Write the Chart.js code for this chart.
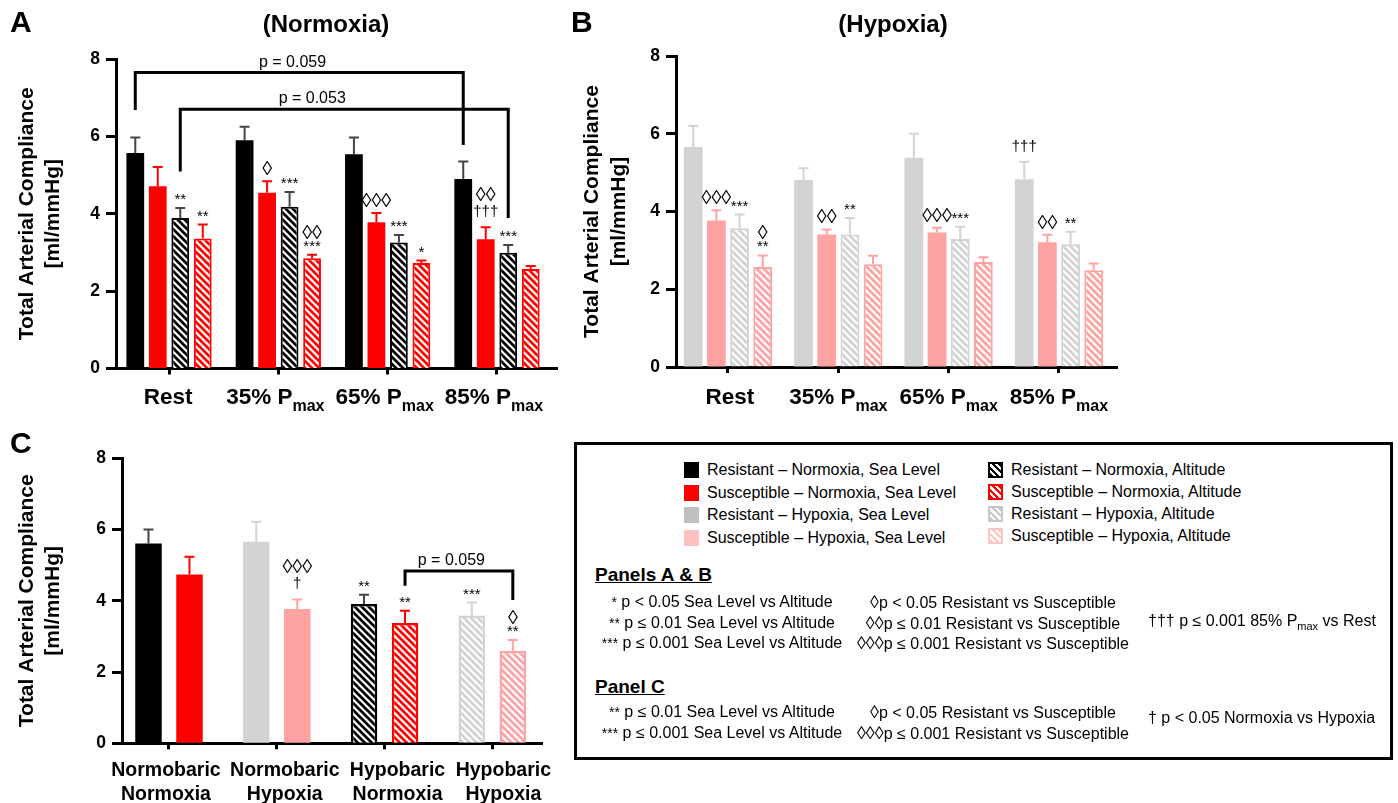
<!DOCTYPE html>
<html>
<head>
<meta charset="utf-8">
<title>Total Arterial Compliance</title>
<script src="https://cdn.jsdelivr.net/npm/chart.js@4.4.1/dist/chart.umd.min.js"></script>
<style>
html,body{margin:0;padding:0;background:#fff;}
#page{position:relative;width:1398px;height:803px;overflow:hidden;font-family:"Liberation Sans",Arial,Helvetica,sans-serif;color:#000;}
#page canvas{position:absolute;}
#cA{left:0;top:0;}
#cB{left:565px;top:0;}
#cC{left:0;top:420px;}
#box{position:absolute;left:574px;top:442px;width:819px;height:318px;border:3px solid #000;box-sizing:border-box;}
.sw{position:absolute;width:15px;height:16px;box-sizing:border-box;}
.lt{position:absolute;font-size:16px;line-height:18px;white-space:nowrap;}
.hd{position:absolute;font-size:19px;font-weight:bold;text-decoration:underline;line-height:22px;white-space:nowrap;}
.st{position:absolute;font-size:16px;line-height:20px;white-space:nowrap;text-align:center;width:500px;}
.sl{position:absolute;font-size:16px;line-height:20px;white-space:nowrap;}
.ast{font-size:14px;}
.dm{font-size:18px;}
.sb{font-size:11px;position:relative;top:4px;}
</style>
</head>
<body>
<div id="page">
<canvas id="cA" width="570" height="420"></canvas>
<canvas id="cB" width="565" height="420"></canvas>
<canvas id="cC" width="570" height="383"></canvas>
<div id="box"></div>
<div id="leg"></div>
</div>
<script>
// ---------------- data ----------------
const tickMainAB = ['Rest', '35% P', '65% P', '85% P'];
const tickSubAB  = ['', 'max', 'max', 'max'];
const tickLinesC = [['Normobaric', 'Normoxia'], ['Normobaric', 'Hypoxia'], ['Hypobaric', 'Normoxia'], ['Hypobaric', 'Hypoxia']];
const yTicks = [0, 2, 4, 6, 8];
const xTicks = [0, 1, 2, 3];

const legendLabels = [
  'Resistant – Normoxia, Sea Level', 'Susceptible – Normoxia, Sea Level',
  'Resistant – Hypoxia, Sea Level', 'Susceptible – Hypoxia, Sea Level',
  'Resistant – Normoxia, Altitude', 'Susceptible – Normoxia, Altitude',
  'Resistant – Hypoxia, Altitude', 'Susceptible – Hypoxia, Altitude'
];

// Panel A (Normoxia): means and SEM
const aResSea    = [5.57, 5.90, 5.54, 4.90];
const aSusSea    = [4.71, 4.54, 3.78, 3.34];
const aResAlt    = [3.89, 4.18, 3.26, 2.99];
const aSusAlt    = [3.36, 2.85, 2.73, 2.57];
const aResSeaErr = [0.40, 0.35, 0.43, 0.45];
const aSusSeaErr = [0.50, 0.30, 0.24, 0.31];
const aResAltErr = [0.26, 0.38, 0.19, 0.20];
const aSusAltErr = [0.36, 0.09, 0.06, 0.08];

// Panel B (Hypoxia)
const bResSea    = [5.66, 4.81, 5.38, 4.83];
const bSusSea    = [3.77, 3.41, 3.46, 3.21];
const bResAlt    = [3.57, 3.41, 3.29, 3.16];
const bSusAlt    = [2.57, 2.64, 2.70, 2.49];
const bResSeaErr = [0.54, 0.30, 0.62, 0.45];
const bSusSeaErr = [0.26, 0.13, 0.12, 0.19];
const bResAltErr = [0.35, 0.42, 0.32, 0.32];
const bSusAltErr = [0.30, 0.22, 0.12, 0.17];

// Panel C (Rest values by condition)
const cRes    = [5.61, 5.66, 3.91, 3.59];
const cSus    = [4.74, 3.77, 3.38, 2.60];
const cResErr = [0.39, 0.56, 0.26, 0.36];
const cSusErr = [0.50, 0.27, 0.34, 0.30];

// significance marks: category index, dataset index, lines (top to bottom)
const annA = [
  {c:0, d:2, t:['**']}, {c:0, d:3, t:['**']},
  {c:1, d:1, t:['◊']}, {c:1, d:2, t:['***']}, {c:1, d:3, t:['◊◊', '***']},
  {c:2, d:1, t:['◊◊◊']}, {c:2, d:2, t:['***']}, {c:2, d:3, t:['*']},
  {c:3, d:1, t:['◊◊', '†††']}, {c:3, d:2, t:['***']}
];
const annB = [
  {c:0, d:1, t:['◊◊◊']}, {c:0, d:2, t:['***']}, {c:0, d:3, t:['◊', '**']},
  {c:1, d:1, t:['◊◊']}, {c:1, d:2, t:['**']},
  {c:2, d:1, t:['◊◊◊']}, {c:2, d:2, t:['***']},
  {c:3, d:0, t:['†††']}, {c:3, d:1, t:['◊◊']}, {c:3, d:2, t:['**']}
];
const annC = [
  {c:1, d:1, t:['◊◊◊', '†']},
  {c:2, d:0, t:['**']}, {c:2, d:1, t:['**']},
  {c:3, d:0, t:['***']}, {c:3, d:1, t:['◊', '**']}
];
// comparison brackets (values in data units)
const brA = [
  {c1:0, d1:0, c2:3, d2:0, y:7.65, y1:6.68, y2:5.78, text:'p = 0.059', tx:1.13},
  {c1:0, d1:2, c2:3, d2:2, y:6.70, y1:5.09, y2:3.89, text:'p = 0.053', tx:1.31}
];
const brC = [
  {c1:2, d1:1, c2:3, d2:1, y:4.84, y1:4.42, y2:4.02, text:'p = 0.059', tx:2.62}
];

// ---------------- styles ----------------
const FF = '"Liberation Sans", Arial, Helvetica, sans-serif';
Chart.defaults.font.family = FF;
const COL = {black:'#000000', red:'#ff0000', gray:'#d3d3d3', pink:'#ffa2a2', errBlack:'#454545'};

function hatch(color) {
  const s = 7;
  const c = document.createElement('canvas');
  c.width = s; c.height = s;
  const g = c.getContext('2d');
  g.fillStyle = '#fff'; g.fillRect(0, 0, s, s);
  g.strokeStyle = color; g.lineWidth = 2.7;
  g.beginPath();
  for (let k = -2; k <= 2; k++) { g.moveTo(k * s - s, -s); g.lineTo(k * s + 2 * s, 2 * s); }
  g.stroke();
  return g.createPattern(c, 'repeat');
}
const HB = hatch(COL.black), HR = hatch(COL.red), HG = hatch(COL.gray), HP = hatch(COL.pink);

function glyphKind(t) { if (t.indexOf('◊') >= 0) return 'd'; if (t.indexOf('†') >= 0) return 't'; return 'a'; }
const GF = {a: '15px ' + FF, d: '20px ' + FF, t: '15px ' + FF};
const GH = {a: 10, d: 15, t: 20};
function textC(ctx, text, x, cy, font) {
  ctx.font = font;
  const m = ctx.measureText(text);
  ctx.textAlign = 'center'; ctx.textBaseline = 'alphabetic';
  ctx.fillText(text, x, cy + (m.actualBoundingBoxAscent - m.actualBoundingBoxDescent) / 2);
}

const deco = {
  id: 'deco',
  afterDatasetsDraw(chart, args, o) {
    const ctx = chart.ctx, ys = chart.scales.y, xs = chart.scales.x;
    ctx.save();
    const errTop = (d, c) => ys.getPixelForValue(chart.data.datasets[d].data[c].y + o.errs[d][c]);
    chart.data.datasets.forEach((ds, d) => {
      chart.getDatasetMeta(d).data.forEach((el, c) => {
        const t = errTop(d, c);
        ctx.strokeStyle = o.errColors[d][c]; ctx.lineWidth = 2; ctx.lineCap = 'butt';
        ctx.beginPath();
        ctx.moveTo(el.x, el.y); ctx.lineTo(el.x, t);
        ctx.moveTo(el.x - 5, t); ctx.lineTo(el.x + 5, t);
        ctx.stroke();
      });
    });
    ctx.fillStyle = '#000';
    o.ann.forEach(a => {
      const el = chart.getDatasetMeta(a.d).data[a.c];
      let y = errTop(a.d, a.c) - 6;
      for (let i = a.t.length - 1; i >= 0; i--) {
        const k = glyphKind(a.t[i]), h = GH[k];
        textC(ctx, a.t[i], el.x, y - h / 2, GF[k]);
        y -= h;
      }
    });
    o.brackets.forEach(b => {
      const x1 = chart.getDatasetMeta(b.d1).data[b.c1].x;
      const x2 = chart.getDatasetMeta(b.d2).data[b.c2].x;
      const yy = ys.getPixelForValue(b.y);
      ctx.strokeStyle = '#000'; ctx.lineWidth = 3; ctx.lineJoin = 'miter'; ctx.lineCap = 'butt';
      ctx.beginPath();
      ctx.moveTo(x1, ys.getPixelForValue(b.y1)); ctx.lineTo(x1, yy);
      ctx.lineTo(x2, yy); ctx.lineTo(x2, ys.getPixelForValue(b.y2));
      ctx.stroke();
      ctx.font = '16px ' + FF; ctx.textAlign = 'center'; ctx.textBaseline = 'alphabetic';
      ctx.fillText(b.text, xs.getPixelForValue(b.tx), yy - 6);
    });
    ctx.restore();
  },
  afterDraw(chart, args, o) {
    const ctx = chart.ctx, xs = chart.scales.x, ca = chart.chartArea;
    ctx.save();
    ctx.fillStyle = '#000';
    ctx.textBaseline = 'alphabetic';
    ctx.font = 'bold 30px ' + FF; ctx.textAlign = 'left';
    ctx.fillText(o.letter, o.letterX, o.letterY);
    if (o.title) {
      ctx.font = 'bold 24px ' + FF; ctx.textAlign = 'center';
      ctx.fillText(o.title, o.titleX, o.titleY);
    }
    const cy = (ca.top + ca.bottom) / 2;
    ctx.font = 'bold 21px ' + FF; ctx.textAlign = 'center'; ctx.textBaseline = 'middle';
    o.yTitle.forEach((t, i) => {
      ctx.save(); ctx.translate(o.yTitleX[i], cy); ctx.rotate(-Math.PI / 2);
      ctx.fillText(t, 0, 0); ctx.restore();
    });
    ctx.textBaseline = 'alphabetic';
    xTicks.forEach((v, i) => {
      const cx = xs.getPixelForValue(v) + (o.xDx ? o.xDx[i] : 0);
      if (o.xMain) {
        const fm = 'bold 22.5px ' + FF, fs = 'bold 16px ' + FF;
        ctx.font = fm; const w1 = ctx.measureText(o.xMain[i]).width;
        ctx.font = fs; const w2 = o.xSub[i] ? ctx.measureText(o.xSub[i]).width : 0;
        const x0 = cx - (w1 + w2) / 2;
        ctx.textAlign = 'left';
        ctx.font = fm; ctx.fillText(o.xMain[i], x0, o.xLabelY);
        if (o.xSub[i]) { ctx.font = fs; ctx.fillText(o.xSub[i], x0 + w1, o.xLabelY + 7); }
      } else {
        ctx.font = 'bold 19.5px ' + FF; ctx.textAlign = 'center';
        o.xLines[i].forEach((t, j) => ctx.fillText(t, cx, o.xLabelY + j * 24));
      }
    });
    ctx.restore();
  }
};

function makeChart(id, cfg) {
  const datasets = cfg.series.map(s => ({
    label: s.label,
    data: s.values.map((v, k) => ({x: xTicks[k], y: v})),
    backgroundColor: s.bg, borderColor: s.bc, borderWidth: s.bw,
    categoryPercentage: cfg.cp, barPercentage: cfg.bp
  }));
  return new Chart(document.getElementById(id), {
    type: 'bar',
    data: {datasets},
    options: {
      responsive: false, animation: false, devicePixelRatio: 1,
      layout: {padding: {left: 0, top: cfg.top, right: cfg.right, bottom: 0}},
      plugins: {legend: {display: false}, tooltip: {enabled: false}, deco: cfg.deco},
      scales: {
        x: {
          type: 'linear', min: cfg.xmin, max: cfg.xmax, offset: false,
          afterBuildTicks: ax => { ax.ticks = xTicks.map(v => ({value: v})); },
          afterFit: ax => { ax.height = cfg.xh; },
          grid: {display: true, offset: false, drawOnChartArea: false, drawTicks: true, tickLength: 6, tickWidth: 3, tickColor: '#000', color: '#000'},
          border: {display: true, width: 3, color: '#000'},
          ticks: {display: true, autoSkip: false, callback: () => ''}
        },
        y: {
          min: 0, max: 8,
          afterBuildTicks: ax => { ax.ticks = yTicks.map(v => ({value: v})); },
          afterFit: ax => { ax.width = cfg.yw; },
          grid: {display: true, drawOnChartArea: false, drawTicks: true, tickLength: 10, tickWidth: 3, tickColor: '#000', color: '#000'},
          border: {display: true, width: 3, color: '#000'},
          ticks: {color: '#000', padding: 6, font: {size: 17.5, weight: 'bold', family: FF}}
        }
      }
    },
    plugins: [deco]
  });
}

const eB = COL.errBlack;
makeChart('cA', {
  top: 59, right: 13, yw: 116, xh: 51.5, xmin: -0.485, xmax: 3.549, cp: 0.823, bp: 0.79,
  series: [
    {label: legendLabels[0], values: aResSea, bg: COL.black, bc: COL.black, bw: 0},
    {label: legendLabels[1], values: aSusSea, bg: COL.red, bc: COL.red, bw: 0},
    {label: legendLabels[4], values: aResAlt, bg: HB, bc: COL.black, bw: 2},
    {label: legendLabels[5], values: aSusAlt, bg: HR, bc: COL.red, bw: 2}
  ],
  deco: {
    letter: 'A', letterX: 10, letterY: 32, title: '(Normoxia)', titleX: 326, titleY: 32,
    yTitle: ['Total Arterial Compliance', '[ml/mmHg]'], yTitleX: [27, 53],
    xMain: tickMainAB, xSub: tickSubAB, xLabelY: 404, xDx: [-1, -3, -3, -3],
    errs: [aResSeaErr, aSusSeaErr, aResAltErr, aSusAltErr],
    errColors: [[eB, eB, eB, eB], [COL.red, COL.red, COL.red, COL.red], [eB, eB, eB, eB], [COL.red, COL.red, COL.red, COL.red]],
    ann: annA, brackets: brA
  }
});

makeChart('cB', {
  top: 56, right: 13, yw: 111, xh: 53, xmin: -0.471, xmax: 3.526, cp: 0.84, bp: 0.81,
  series: [
    {label: legendLabels[2], values: bResSea, bg: COL.gray, bc: COL.gray, bw: 0},
    {label: legendLabels[3], values: bSusSea, bg: COL.pink, bc: COL.pink, bw: 0},
    {label: legendLabels[6], values: bResAlt, bg: HG, bc: COL.gray, bw: 2},
    {label: legendLabels[7], values: bSusAlt, bg: HP, bc: COL.pink, bw: 2}
  ],
  deco: {
    letter: 'B', letterX: 6, letterY: 32, title: '(Hypoxia)', titleX: 328, titleY: 32,
    yTitle: ['Total Arterial Compliance', '[ml/mmHg]'], yTitleX: [27, 54],
    xMain: tickMainAB, xSub: tickSubAB, xLabelY: 404, xDx: [2, 0, 0, 0],
    errs: [bResSeaErr, bSusSeaErr, bResAltErr, bSusAltErr],
    errColors: [[COL.gray, COL.gray, COL.gray, COL.gray], [COL.pink, COL.pink, COL.pink, COL.pink], [COL.gray, COL.gray, COL.gray, COL.gray], [COL.pink, COL.pink, COL.pink, COL.pink]],
    ann: annB, brackets: []
  }
});

makeChart('cC', {
  top: 38.3, right: 28, yw: 122, xh: 59.7, xmin: -0.436, xmax: 3.461, cp: 0.761, bp: 0.646,
  series: [
    {label: 'Resistant', values: cRes, bg: [COL.black, COL.gray, HB, HG], bc: [COL.black, COL.gray, COL.black, COL.gray], bw: [0, 0, 2.5, 2.5]},
    {label: 'Susceptible', values: cSus, bg: [COL.red, COL.pink, HR, HP], bc: [COL.red, COL.pink, COL.red, COL.pink], bw: [0, 0, 2.5, 2.5]}
  ],
  deco: {
    letter: 'C', letterX: 10, letterY: 33, title: '',
    yTitle: ['Total Arterial Compliance', '[ml/mmHg]'], yTitleX: [27, 53],
    xLines: tickLinesC, xLabelY: 356, xDx: [-3, 8, 13, 11],
    errs: [cResErr, cSusErr],
    errColors: [[eB, COL.gray, eB, COL.gray], [COL.red, COL.pink, COL.red, COL.pink]],
    ann: annC, brackets: brC
  }
});

// ---------------- legend box ----------------
const leg = document.getElementById('leg');
function add(cls, left, top, html, style) {
  const el = document.createElement('div');
  el.className = cls; el.style.left = left + 'px'; el.style.top = top + 'px';
  if (style) el.style.cssText += style;
  if (html !== null) el.innerHTML = html;
  leg.appendChild(el);
  return el;
}
const swatches = [
  {solid: '#000000'}, {solid: '#ff0000'}, {solid: '#c0c0c0'}, {solid: '#ffc0c0'},
  {hatch: '#000000'}, {hatch: '#ff0000'}, {hatch: '#c8c8c8'}, {hatch: '#ffc4c4'}
];
const rowY = [[470, 492.5, 515, 537.5], [469.5, 491.5, 513.5, 536]];
legendLabels.forEach((lab, i) => {
  const col = i < 4 ? 0 : 1, r = i % 4;
  const cy = rowY[col][r];
  const sx = col ? 988 : 684, tx = col ? 1011 : 707;
  const s = swatches[i];
  const st = s.solid ? 'background:' + s.solid + ';'
    : 'border:2px solid ' + s.hatch + ';background:repeating-linear-gradient(45deg,' + s.hatch + ' 0 2.2px,#fff 2.2px 4.6px);';
  add('sw', sx, cy - 8, null, st);
  add('lt', tx, cy - 9, lab);
});
add('hd', 595, 564, 'Panels A &amp; B');
add('hd', 595, 676, 'Panel C');
const statRows = [
  [722, 601.7, '<span class="ast">*</span> p &lt; 0.05 Sea Level vs Altitude'],
  [722, 622.7, '<span class="ast">**</span> p ≤ 0.01 Sea Level vs Altitude'],
  [722, 643.3, '<span class="ast">***</span> p ≤ 0.001 Sea Level vs Altitude'],
  [993, 601.7, '<span class="dm">◊</span>p &lt; 0.05 Resistant vs Susceptible'],
  [993, 622.7, '<span class="dm">◊◊</span>p ≤ 0.01 Resistant vs Susceptible'],
  [993, 643.3, '<span class="dm">◊◊◊</span>p ≤ 0.001 Resistant vs Susceptible'],
  [722, 711.7, '<span class="ast">**</span> p ≤ 0.01 Sea Level vs Altitude'],
  [722, 732.7, '<span class="ast">***</span> p ≤ 0.001 Sea Level vs Altitude'],
  [993, 711.7, '<span class="dm">◊</span>p &lt; 0.05 Resistant vs Susceptible'],
  [993, 732.7, '<span class="dm">◊◊◊</span>p ≤ 0.001 Resistant vs Susceptible']
];
statRows.forEach(r => add('st', r[0] - 250, r[1] - 10, r[2]));
add('sl', 1148, 620.7 - 10, '††† p ≤ 0.001 85% P<span class="sb">max</span> vs Rest');
add('sl', 1148, 718.3 - 10, '† p &lt; 0.05 Normoxia vs Hypoxia');
</script>
</body>
</html>
